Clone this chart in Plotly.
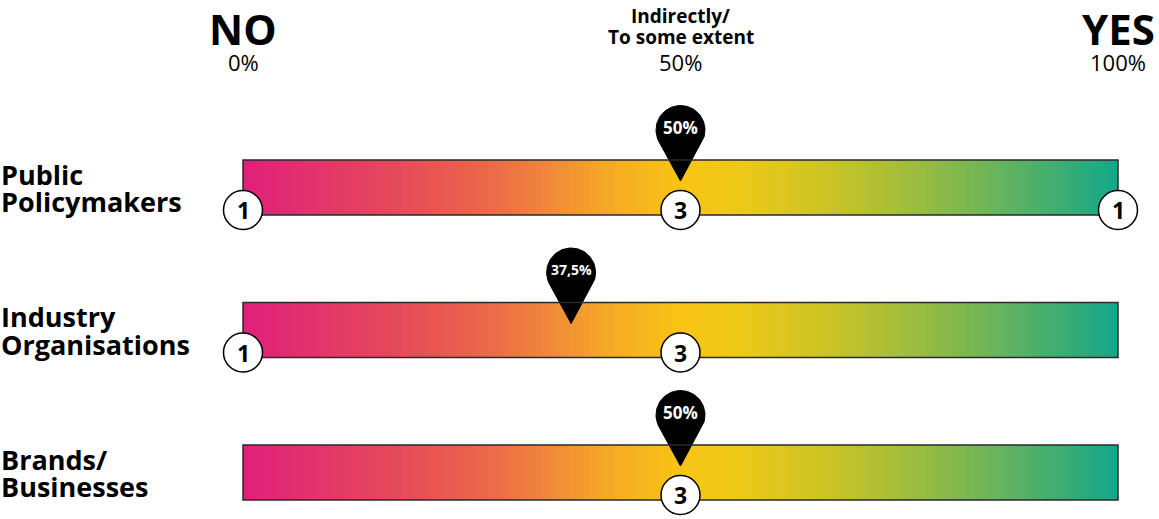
import numpy as np
import plotly.graph_objects as go

# ---------------- data ----------------
categories = ["Public<br>Policymakers", "Industry<br>Organisations", "Brands/<br>Businesses"]
scale_positions = [0, 50, 100]               # NO, Indirectly, YES (percent)
scale_titles = ["NO", "Indirectly/<br>To some extent", "YES"]
scale_labels = ["0%", "50%", "100%"]
counts_no = [1, 1, 0]
counts_partial = [3, 3, 3]
counts_yes = [1, 0, 0]

# ---------------- geometry / layout constants ----------------
W, H = 1159, 519
X_RANGE = [-27.771, 104.686]       # 0% at px 243, 100% at px 1118
Y_RANGE = [2.3263, -1.3158]        # rows 0,1,2 at px 187.5, 330, 472.5
PX_X = W / (X_RANGE[1] - X_RANGE[0])
PX_Y = H / (Y_RANGE[0] - Y_RANGE[1])
BAR_HALF = 27.5 / PX_Y
TOP = Y_RANGE[1]

colorscale = [
    [0.00, "#E0207A"], [0.17, "#E5485C"], [0.27, "#EB6449"], [0.35, "#F0883A"],
    [0.41, "#F5A626"], [0.50, "#F9C414"], [0.57, "#EDC918"], [0.67, "#C9C426"],
    [0.75, "#A5BE3A"], [0.84, "#74B655"], [0.92, "#45AE6E"], [1.00, "#12A88A"],
]

fig = go.Figure()

N = 200
xe = np.linspace(0, 100, N + 1)
xc = (xe[:-1] + xe[1:]) / 2
for i, cat in enumerate(categories):
    fig.add_trace(go.Heatmap(
        x=xe, y=[i - BAR_HALF, i + BAR_HALF], z=[xc],
        colorscale=colorscale, zmin=0, zmax=100, showscale=False, hoverinfo="skip"))
    fig.add_shape(type="rect", x0=0, x1=100, y0=i - BAR_HALF, y1=i + BAR_HALF,
                  line=dict(color="#2a2a2a", width=1.5), fillcolor="rgba(0,0,0,0)",
                  layer="above")
    # category label, one annotation per line for tight line spacing
    lines = cat.split("<br>")
    for k, ln in enumerate(lines):
        off = (-13.5 if k == 0 else 14) if len(lines) == 2 else 0
        fig.add_annotation(x=X_RANGE[0], y=i + off / PX_Y, xref="x", yref="y",
                           text=f"<b>{ln}</b>", showarrow=False, xanchor="left",
                           xshift=-1, font=dict(family="Open Sans", size=27, color="black"))

# count circles (shapes so they sit above the gradient) + numbers
RC = 19.5
for i in range(len(categories)):
    for pos, cnt in zip(scale_positions, [counts_no[i], counts_partial[i], counts_yes[i]]):
        if cnt > 0:
            cy = i + BAR_HALF - 5 / PX_Y
            fig.add_shape(type="circle", x0=pos - RC / PX_X, x1=pos + RC / PX_X,
                          y0=cy - RC / PX_Y, y1=cy + RC / PX_Y, layer="above",
                          fillcolor="white", line=dict(color="black", width=1.5))
            fig.add_annotation(x=pos, y=cy, text=f"<b>{cnt}</b>", showarrow=False,
                               font=dict(family="Open Sans", size=23, color="black"))

# average pins
R = 24.5      # head radius px
D = 51.0      # tip distance from head centre px
for i in range(len(categories)):
    total = counts_no[i] + counts_partial[i] + counts_yes[i]
    avg = (0 * counts_no[i] + 50 * counts_partial[i] + 100 * counts_yes[i]) / total
    tip_y = i - BAR_HALF + 21 / PX_Y
    head_y = tip_y - D / PX_Y
    ang = np.arccos(R / D)
    th = np.linspace(ang, 2 * np.pi - ang, 80)
    px = [avg] + list(avg + (R * np.sin(th)) / PX_X) + [avg]
    py = [tip_y] + list(head_y + (R * np.cos(th)) / PX_Y) + [tip_y]
    fig.add_trace(go.Scatter(x=px, y=py, mode="lines", fill="toself", fillcolor="black",
                             line=dict(color="black", width=1), hoverinfo="skip"))
    lab = (f"{avg:.1f}".rstrip("0").rstrip(".")).replace(".", ",") + "%"
    fig.add_annotation(x=avg, y=head_y - 3 / PX_Y, text=f"<b>{lab}</b>", showarrow=False,
                       font=dict(family="Open Sans", size=17 if len(lab) <= 3 else 14,
                                 color="white"))

# header
for pos, t, l in zip(scale_positions, scale_titles, scale_labels):
    lines = t.split("<br>")
    if len(lines) == 1:
        fig.add_annotation(x=pos, y=TOP + 28 / PX_Y, text=f"<b>{t}</b>", showarrow=False,
                           font=dict(family="Open Sans", size=42, color="black"))
    else:
        for k, ln in enumerate(lines):
            fig.add_annotation(x=pos, y=TOP + (16 + 21 * k) / PX_Y, text=f"<b>{ln}</b>",
                               showarrow=False,
                               font=dict(family="Open Sans", size=19, color="black"))
    fig.add_annotation(x=pos, y=TOP + 62 / PX_Y, text=l, showarrow=False,
                       font=dict(family="Open Sans", size=22, color="black"))

fig.update_layout(
    width=W, height=H, margin=dict(l=0, r=0, t=0, b=0),
    plot_bgcolor="white", paper_bgcolor="white", showlegend=False,
    xaxis=dict(range=X_RANGE, visible=False, fixedrange=True),
    yaxis=dict(range=Y_RANGE, visible=False, fixedrange=True),
)
fig.write_html("out.html")
